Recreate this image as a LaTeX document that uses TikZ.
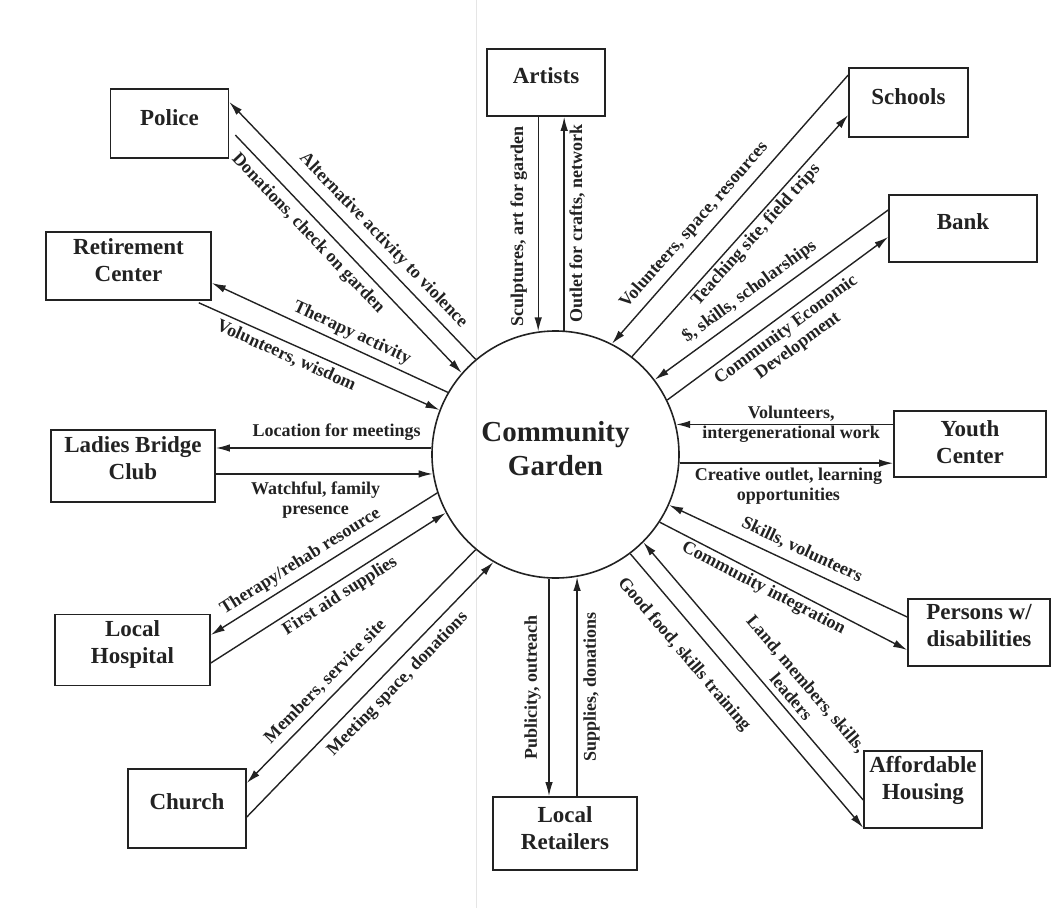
\documentclass[tikz,border=0pt]{standalone}
\usepackage{fontspec}
\setmainfont{Liberation Serif}
\usetikzlibrary{arrows.meta}
\definecolor{ink}{HTML}{222222}

\begin{document}
\begin{tikzpicture}
[x=1pt,y=-1pt,
 >={Latex[length=14pt,width=7.5pt]},
 box/.style={rectangle,draw=ink,line width=1.6pt,inner sep=0pt},
 boxtext/.style={font=\fontsize{23}{27}\selectfont\bfseries,align=center,text=ink},
 hub/.style={circle,draw=ink,line width=1.6pt,inner sep=0pt,minimum size=247pt},
 flow/.style={draw=ink,line width=1.4pt},
 lbl/.style={font=\fontsize{18}{20}\selectfont\bfseries,align=center,text=ink,sloped,inner sep=1.5pt}]
\useasboundingbox (0,0) rectangle (1052,908);
\draw[black!10,line width=1pt] (476,0) -- (476,908);

% garden in the middle
\node[hub] (garden) at (555.5,454.5) {};
\node[font=\fontsize{29}{34}\selectfont\bfseries,align=center,text=ink] (title) at (555.5,448.5) {Community\\Garden};

% partners round it
\node[box,minimum width=118pt,minimum height=69pt] (police) at (169.5,123.5) {};
\node[boxtext] (policetxt) at ([yshift=6pt]police.center) {Police};
\node[box,minimum width=165pt,minimum height=68pt] (ret) at (128.5,266) {};
\node[boxtext] (rettxt) at ([yshift=6pt]ret.center) {Retirement\\Center};
\node[box,minimum width=164pt,minimum height=72pt] (club) at (133,466) {};
\node[boxtext] (clubtxt) at ([yshift=8pt]club.center) {Ladies Bridge\\Club};
\node[box,minimum width=155pt,minimum height=71pt] (hospital) at (132.5,650) {};
\node[boxtext] (hospitaltxt) at ([yshift=6pt]hospital.center) {Local\\Hospital};
\node[box,minimum width=118pt,minimum height=79pt] (church) at (187,808.5) {};
\node[boxtext] (churchtxt) at ([yshift=7pt]church.center) {Church};
\node[box,minimum width=144pt,minimum height=73pt] (retailers) at (565,833.5) {};
\node[boxtext] (retailerstxt) at ([yshift=5pt]retailers.center) {Local\\Retailers};
\node[box,minimum width=118pt,minimum height=77pt] (housing) at (923,789.5) {};
\node[boxtext] (housingtxt) at ([yshift=9pt]housing.center) {Affordable\\Housing};
\node[box,minimum width=142pt,minimum height=67pt] (persons) at (979,632.5) {};
\node[boxtext] (personstxt) at ([yshift=7pt]persons.center) {Persons w/\\disabilities};
\node[box,minimum width=152pt,minimum height=66pt] (youth) at (970,444) {};
\node[boxtext] (youthtxt) at ([yshift=2pt]youth.center) {Youth\\Center};
\node[box,minimum width=148pt,minimum height=67pt] (bank) at (963,228.5) {};
\node[boxtext] (banktxt) at ([yshift=7pt]bank.center) {Bank};
\node[box,minimum width=119pt,minimum height=69pt] (schools) at (908.5,102.5) {};
\node[boxtext] (schoolstxt) at ([yshift=6pt]schools.center) {Schools};
\node[box,minimum width=118pt,minimum height=67pt] (artists) at (546,82.5) {};
\node[boxtext] (artiststxt) at ([yshift=7pt]artists.center) {Artists};

% left side
\draw[flow,<-] ([yshift=21.5pt]police.east) -- (garden.130) node[lbl,pos=0.58,above=5pt] {Alternative activity to violence};
\draw[flow,->] ([xshift=6pt,yshift=-11.5pt]police.east) -- (garden.139) node[lbl,pos=0.37,below=5pt] {Donations, check on garden};
\draw[flow,<-] ([yshift=-17pt]ret.east) -- (garden.150) node[lbl,pos=0.57,above=3pt] {Therapy activity};
\draw[flow,->] ([xshift=-13pt,yshift=-2pt]ret.south east) -- (garden.159) node[lbl,pos=0.385,below=3pt] {Volunteers, wisdom};
\draw[flow,<-] (garden.177 -| club.east) -- (garden.177) node[lbl,pos=0.56,above=5pt] {Location for meetings};
\draw[flow,->] (garden.189 -| club.east) -- (garden.189) node[lbl,pos=0.46,below=6pt] {Watchful, family\\presence};
\draw[flow,<-] ([yshift=15pt]hospital.east) -- (garden.198) node[lbl,pos=0.43,above=4pt] {Therapy/rehab resource};
\draw[flow,->] ([yshift=-13pt]hospital.east) -- (garden.208) node[lbl,pos=0.52,below=3pt] {First aid supplies};
\draw[flow,<-] ([yshift=25.5pt]church.east) -- (garden.230) node[lbl,pos=0.39,above=5pt] {Members, service site};
\draw[flow,->] ([yshift=-8.5pt]church.east) -- (garden.240) node[lbl,pos=0.565,below=6pt] {Meeting space, donations};

% top and bottom
\draw[flow,<-] (garden.98) -- (garden.98 |- artists.south) node[lbl,pos=0.49,above=9pt] {Sculptures, art for garden};
\draw[flow,->] (garden.86) -- (garden.86 |- artists.south) node[lbl,midway,below=3pt] {Outlet for crafts, network};
\draw[flow,<-] (garden.267 |- retailers.north) -- (garden.267) node[lbl,midway,above=6pt] {Publicity, outreach};
\draw[flow,->] (garden.280 |- retailers.north) -- (garden.280) node[lbl,midway,below=4pt] {Supplies, donations};

% right side
\draw[flow,<-] (garden.63) -- ([yshift=27.5pt]schools.west) node[lbl,pos=0.4,above=6pt] {Volunteers, space, resources};
\draw[flow,->] (garden.52) -- ([yshift=-12.5pt]schools.west) node[lbl,pos=0.535,below=1pt] {Teaching site, field trips};
\draw[flow,<-] (garden.37) -- ([yshift=18.5pt]bank.west) node[lbl,pos=0.445,above=5pt] {\$, skills, scholarships};
\draw[flow,->] (garden.26) -- ([yshift=-8.5pt]bank.west) node[lbl,pos=0.5,below=4pt] {Community Economic\\Development};
\draw[flow,<-] (garden.14) -- (garden.14 -| youth.west) node[lbl,pos=0.53] {Volunteers,\\intergenerational work};
\draw[flow,->] (garden.356) -- (garden.356 -| youth.west) node[lbl,pos=0.51,below=3pt] {Creative outlet, learning\\opportunities};
\draw[flow,<-] (garden.336) -- ([yshift=15.5pt]persons.west) node[lbl,pos=0.53,above=6pt] {Skills, volunteers};
\draw[flow,->] (garden.327) -- ([yshift=-17.5pt]persons.west) node[lbl,pos=0.44,below=1pt] {Community integration};
\draw[flow,->] (garden.307) -- ([yshift=1pt]housing.south west) node[lbl,pos=0.31,below=14pt] {Good food, skills training};
\draw[flow,<-] (garden.315) -- ([yshift=-10.5pt]housing.west) node[lbl,pos=0.63,above=4pt] {Land, members, skills,\\leaders};
\end{tikzpicture}
\end{document}
